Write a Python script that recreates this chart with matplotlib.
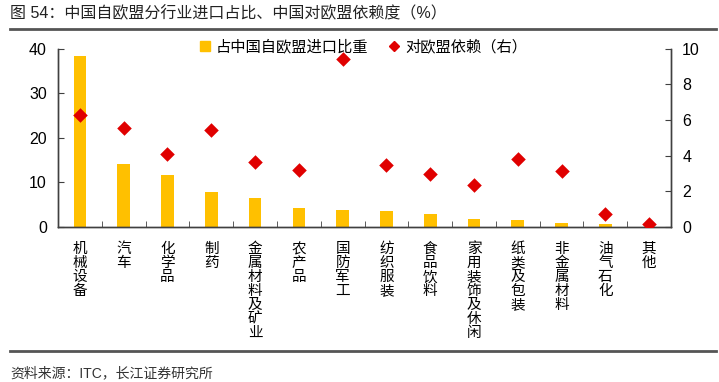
import numpy as np
import matplotlib.pyplot as plt
from matplotlib.lines import Line2D

plt.rcParams['font.family'] = ['Liberation Sans', 'Noto Sans CJK SC', 'DejaVu Sans']

categories = ['机械设备', '汽车', '化学品', '制药', '金属材料及矿业', '农产品', '国防军工',
              '纺织服装', '食品饮料', '家用装饰及休闲', '纸类及包装', '非金属材料', '油气石化', '其他']
share = [38.3, 14.2, 11.75, 7.8, 6.6, 4.3, 3.7, 3.5, 3.0, 1.8, 1.55, 0.8, 0.6, 0.1]
dependence = [6.3, 5.55, 4.1, 5.45, 3.63, 3.2, 9.4, 3.5, 2.97, 2.37, 3.8, 3.16, 0.73, 0.19]

gold = '#FFC000'
red = '#E00000'
spine_c = '#404040'

fig = plt.figure(figsize=(7.19, 3.82), dpi=100)
ax = fig.add_axes([0.0807, 0.4058, 0.8526, 0.467])
ax2 = ax.twinx()

x = np.arange(len(categories))
ax.bar(x, share, width=0.29, color=gold, zorder=2)
ax2.scatter(x, dependence, marker='D', s=55, color=red, zorder=3, linewidths=0)

ax.set_xlim(-0.5, len(categories) - 0.5)
ax.set_ylim(0, 40)
ax.set_yticks([0, 10, 20, 30, 40])
ax2.set_ylim(0, 10)
ax2.set_yticks([0, 2, 4, 6, 8, 10])

ax.set_xticks(x)
ax.set_xticklabels(['\n'.join(c) for c in categories], fontsize=10.5, linespacing=1.0, va='top')
ax.set_xticks(np.arange(-0.5, len(categories) - 0.4, 1), minor=True)
ax.tick_params(axis='x', which='major', length=0, pad=11)
ax.tick_params(axis='x', which='minor', length=4, direction='in', color=spine_c)
ax.tick_params(axis='y', direction='in', length=4, labelsize=11.5, color=spine_c, pad=8)
ax2.tick_params(axis='y', direction='in', length=4, labelsize=11.5, color=spine_c, pad=8)

for a in (ax, ax2):
    a.spines['top'].set_visible(False)
    for s in ('left', 'right', 'bottom'):
        a.spines[s].set_color(spine_c)
        a.spines[s].set_linewidth(1)

handles = [Line2D([], [], marker='s', color=gold, linestyle='none', markersize=7),
           Line2D([], [], marker='D', color=red, linestyle='none', markersize=5)]
fig.legend(handles, ['占中国自欧盟进口比重', '对欧盟依赖（右）'], loc='center',
           bbox_to_anchor=(0.504, 0.877), ncol=2, frameon=False, fontsize=11,
           handletextpad=0.2, columnspacing=1.2, handlelength=1.0)

fig.text(0.014, 0.966, '图 54：中国自欧盟分行业进口占比、中国对欧盟依赖度（%）',
         fontsize=11.5, va='center', ha='left', color='#222222')
fig.add_artist(Line2D([0.014, 0.996], [0.924, 0.924], color='#555555', lw=2))
fig.add_artist(Line2D([0.014, 0.996], [0.081, 0.081], color='#555555', lw=2))
fig.text(0.014, 0.024, '资料来源：ITC，长江证券研究所', fontsize=10, va='center',
         ha='left', color='#333333')

fig.savefig('out.png', dpi=100)
